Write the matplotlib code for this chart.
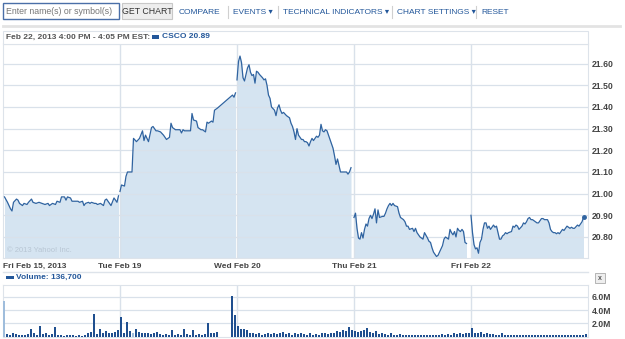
import matplotlib
matplotlib.use('Agg')
import matplotlib.pyplot as plt
from matplotlib.patches import Rectangle

plt.rcParams['font.family'] = ['Liberation Sans', 'DejaVu Sans']

# 5-min bar index (0 = Fri Feb 15 open, 78 bars a day) and CSCO price
fri15_bar = [1, 3, 5, 6, 7, 9, 10, 11, 13, 14, 16, 17, 19, 20, 22, 24, 26, 28, 30, 31,
             33, 35, 36, 38, 39, 41, 42, 43, 45, 46, 48, 50, 51, 53, 54, 55, 57, 58, 59, 61,
             62, 63, 65, 67, 68, 69, 71, 72, 74, 76, 77]
fri15_px = [20.985, 20.96, 20.93, 20.92, 20.96, 20.975, 20.97, 20.955, 20.945, 20.955,
            20.95, 20.96, 20.975, 20.96, 20.955, 20.96, 20.955, 20.95, 20.955, 20.945,
            20.955, 20.95, 20.965, 20.96, 20.985, 20.985, 20.97, 20.985, 20.98, 20.965,
            20.965, 20.965, 20.96, 20.965, 20.945, 20.955, 20.96, 20.955, 20.96, 20.955,
            20.955, 20.95, 20.955, 20.945, 20.97, 20.975, 20.955, 20.945, 20.98, 20.96, 20.99]

tue19_bar = [78, 79, 81, 82, 83, 85, 86, 87, 89, 91, 93, 94, 95, 97, 99, 100, 102, 103, 105, 107,
             108, 109, 111, 112, 113, 115, 117, 118, 119, 120, 121, 123, 125, 126, 127, 129, 130, 132, 133, 135,
             136, 137, 139, 140, 141, 143, 153, 154, 155]
tue19_px = [21.01, 21.04, 21.035, 21.08, 21.10, 21.10, 21.10, 21.255, 21.24, 21.255,
            21.29, 21.245, 21.27, 21.24, 21.305, 21.31, 21.29, 21.29, 21.285, 21.27,
            21.26, 21.25, 21.26, 21.325, 21.305, 21.295, 21.295, 21.295, 21.28, 21.295,
            21.29, 21.29, 21.29, 21.37, 21.34, 21.335, 21.305, 21.295, 21.295, 21.285,
            21.33, 21.325, 21.335, 21.33, 21.385, 21.395, 21.455, 21.445, 21.465]

wed20_bar = [156, 157, 158, 159, 160, 161, 163, 164, 165, 166, 167, 168, 169, 170, 171, 173, 174, 175, 176, 177,
             178, 179, 181, 182, 183, 184, 185, 186, 187, 189, 190, 191, 192, 193, 194, 195, 196, 197, 199, 200,
             201, 202, 203, 204, 205, 206, 207, 209, 210, 211, 212, 213, 214, 215, 216, 217, 219, 220, 221, 222,
             223, 224, 225, 227, 228, 229, 230, 231, 232]
wed20_px = [21.525, 21.61, 21.635, 21.605, 21.535, 21.52, 21.58, 21.595, 21.56, 21.545,
            21.55, 21.51, 21.565, 21.56, 21.55, 21.535, 21.525, 21.53, 21.50, 21.455,
            21.44, 21.40, 21.385, 21.36, 21.395, 21.41, 21.385, 21.37, 21.375, 21.36,
            21.355, 21.35, 21.325, 21.31, 21.285, 21.25, 21.30, 21.27, 21.25, 21.25,
            21.24, 21.24, 21.235, 21.22, 21.24, 21.255, 21.245, 21.265, 21.26, 21.27,
            21.32, 21.29, 21.285, 21.295, 21.29, 21.27, 21.23, 21.21, 21.175, 21.135,
            21.16, 21.13, 21.10, 21.10, 21.10, 21.10, 21.09, 21.10, 21.12]

thu21_bar = [234, 235, 236, 237, 238, 239, 240, 241, 242, 243, 244, 245, 246, 247, 248, 249, 250, 251, 253, 254,
             255, 256, 257, 258, 259, 260, 261, 263, 264, 265, 266, 267, 268, 269, 270, 271, 273, 274, 275, 276,
             277, 278, 279, 280, 281, 283, 284, 285, 286, 287, 288, 289, 290, 291, 293, 294, 295, 296, 297, 298,
             299, 300, 301, 302, 303, 304, 305, 306, 307, 308, 309]
thu21_px = [20.89, 20.91, 20.84, 20.795, 20.79, 20.82, 20.795, 20.835, 20.86, 20.85,
            20.885, 20.90, 20.885, 20.905, 20.93, 20.865, 20.925, 20.89, 20.895, 20.895,
            20.91, 20.93, 20.945, 20.955, 20.945, 20.955, 20.945, 20.94, 20.91, 20.89,
            20.885, 20.88, 20.87, 20.85, 20.85, 20.835, 20.84, 20.825, 20.84, 20.82,
            20.81, 20.80, 20.795, 20.79, 20.82, 20.795, 20.78, 20.775, 20.75, 20.73,
            20.72, 20.71, 20.715, 20.73, 20.76, 20.79, 20.80, 20.795, 20.79, 20.835,
            20.82, 20.81, 20.825, 20.80, 20.84, 20.83, 20.825, 20.835, 20.825, 20.775, 20.77]

fri22_bar = [312, 313, 314, 315, 316, 317, 318, 319, 320, 321, 322, 323, 324, 325, 326, 327, 328, 329, 330, 331,
             332, 333, 334, 335, 336, 337, 339, 340, 341, 342, 343, 344, 346, 347, 348, 349, 350, 351, 352, 353,
             355, 356, 357, 358, 359, 360, 361, 363, 364, 365, 366, 367, 368, 369, 370, 371, 373, 374, 375, 376,
             377, 378, 379, 380, 381, 383, 384, 385, 386, 387]
fri22_px = [20.90, 20.82, 20.765, 20.745, 20.75, 20.725, 20.775, 20.79, 20.835, 20.865,
            20.865, 20.84, 20.85, 20.835, 20.845, 20.855, 20.845, 20.85, 20.82, 20.79,
            20.79, 20.805, 20.81, 20.82, 20.815, 20.82, 20.825, 20.85, 20.845, 20.855,
            20.85, 20.835, 20.85, 20.865, 20.86, 20.87, 20.885, 20.89, 20.88, 20.88,
            20.87, 20.865, 20.865, 20.875, 20.885, 20.885, 20.88, 20.88, 20.865, 20.835,
            20.825, 20.82, 20.82, 20.815, 20.82, 20.815, 20.835, 20.83, 20.84, 20.85,
            20.845, 20.84, 20.845, 20.84, 20.84, 20.855, 20.85, 20.86, 20.87, 20.89]

# volume (millions), one value every 2 bars of each day
vol_fri15 = [5.4, 0.4, 0.3, 0.5, 0.4, 0.3, 0.3, 0.25, 0.4, 1.1, 0.6, 0.3, 1.6, 0.4, 0.5, 0.3, 0.4, 1.45, 0.3, 0.2,
             0.15, 0.2, 0.3, 0.2, 0.15, 0.2, 0.15, 0.3, 0.5, 0.7, 3.4, 0.4, 1.1, 0.5, 0.8, 0.6, 0.5, 0.7, 1.0]
vol_tue19 = [3.0, 0.6, 2.2, 0.8, 0.5, 1.1, 0.7, 0.6, 0.5, 0.6, 0.4, 0.5, 0.7, 0.4, 0.3, 0.4, 0.3, 1.0, 0.3, 0.4,
             0.3, 1.1, 0.4, 0.3, 1.0, 0.3, 0.4, 0.3, 0.4, 2.0, 0.5, 0.6, 0.7, 0, 0, 0, 0, 6.1, 3.3]
vol_wed20 = [1.6, 1.1, 1.2, 1.0, 0.6, 0.5, 0.4, 0.6, 0.3, 0.4, 0.5, 0.4, 0.6, 0.4, 0.5, 0.7, 0.4, 0.5, 0.3, 0.5,
             0.4, 0.6, 0.4, 0.3, 0.5, 0.3, 0.4, 0.3, 0.6, 0.5, 0.4, 0.6, 0.5, 0.8, 0.7, 1.0, 0.8, 1.5, 1.0]
vol_thu21 = [0.9, 0.7, 0.8, 1.0, 1.3, 0.7, 0.5, 0.9, 0.4, 0.5, 0.4, 0.3, 0.5, 0.3, 0.3, 0.4, 0.2, 0.3, 0.2, 0.3,
             0.2, 0.2, 0.3, 0.2, 0.3, 0.2, 0.3, 0.2, 0.3, 0.4, 0.3, 0.4, 0.3, 0.5, 0.4, 0.5, 0.4, 0.6, 0.5]
vol_fri22 = [1.3, 0.6, 0.5, 0.7, 0.4, 0.5, 0.4, 0.4, 0.3, 0.3, 0.6, 0.3, 0.2, 0.3, 0.2, 0.2, 0.3, 0.2, 0.2, 0.2,
             0.3, 0.2, 0.2, 0.2, 0.3, 0.2, 0.2, 0.2, 0.3, 0.2, 0.2, 0.2, 0.2, 0.2, 0.2, 0.2, 0.2, 0.3, 0.4]
light_vol = [(0, 0), (1, 4), (1, 58)]  # (day, slot) drawn in light blue

day_labels = ['Fri Feb 15, 2013', 'Tue Feb 19', 'Wed Feb 20', 'Thu Feb 21', 'Fri Feb 22']
price_ticks = [20.80, 20.90, 21.00, 21.10, 21.20, 21.30, 21.40, 21.50, 21.60]
vol_ticks = [2, 4, 6]
vol_labels = ['2.0M', '4.0M', '6.0M']
nav_items = ['COMPARE', 'EVENTS \u25be', 'TECHNICAL INDICATORS \u25be', 'CHART SETTINGS \u25be', 'RESET']

LINE = '#2f63a0'
FILL = '#d5e4f1'
GRID = '#d9e1ea'
BLUE = '#23579a'
W, H = 625, 339


def fx(x):
    return x / W


def fy(y):
    return 1 - y / H


fig = plt.figure(figsize=(W / 100, H / 100), dpi=100)

# ---- top navigation bar
fig.patches.append(Rectangle((fx(3), fy(19)), fx(116), 16 / H, transform=fig.transFigure,
                             fc='white', ec='#4a6fa8', lw=1))
fig.text(fx(6), fy(11), 'Enter name(s) or symbol(s)', fontsize=6.3, color='#777777', va='center')
fig.patches.append(Rectangle((fx(122), fy(19)), fx(50), 16 / H, transform=fig.transFigure,
                             fc='#eeeeee', ec='#c8c8c8', lw=0.8))
fig.text(fx(147), fy(11), 'GET CHART', fontsize=6.3, color='#333333', va='center', ha='center')
nav_x = [179, 233, 283, 397, 481]
for i, (x, s) in enumerate(zip(nav_x, nav_items)):
    fig.text(fx(x), fy(12), s, fontsize=6, color=BLUE, va='center')
    if i > 0:
        fig.lines.append(plt.Line2D([fx(x - 5)] * 2, [fy(6), fy(18)], transform=fig.transFigure,
                                    color='#d0d0d0', lw=0.8))
fig.lines.append(plt.Line2D([fx(3), fx(620)], [fy(26), fy(26)], transform=fig.transFigure,
                            color='#e3e3e3', lw=2))

# ---- header box
fig.patches.append(Rectangle((fx(3), fy(43.5)), fx(585), 13 / H, transform=fig.transFigure,
                             fc='white', ec='#dde3ea', lw=0.8))
fig.text(fx(6), fy(37), 'Feb 22, 2013 4:00 PM - 4:05 PM EST:', fontsize=6, fontweight='bold',
         color='#555555', va='center')
fig.patches.append(Rectangle((fx(152), fy(38.5)), fx(7), 3 / H, transform=fig.transFigure,
                             fc=BLUE, ec='none'))
fig.text(fx(162), fy(37), 'CSCO 20.89', fontsize=6, fontweight='bold', color=BLUE, va='center')

# ---- price panel
ax = fig.add_axes([fx(3), fy(258), fx(585), (258 - 43.5) / H])
ymin, ymax = 20.703, 21.693
days = [(fri15_bar, fri15_px), (tue19_bar, tue19_px), (wed20_bar, wed20_px),
        (thu21_bar, thu21_px), (fri22_bar, fri22_px)]
for b, p in days:
    ax.fill_between(b, p, ymin, color=FILL, lw=0, zorder=1)
    ax.plot(b, p, color=LINE, lw=0.9, zorder=4)
ax.plot(fri22_bar[-1], fri22_px[-1], 'o', color=LINE, ms=2.5, zorder=5)

day_starts = [0, 78, 156, 234, 312]
for d in day_starts[1:]:
    ax.axvline(d, color=GRID, lw=1, zorder=2)
ax.set_xlim(0, 390)
ax.set_ylim(ymin, ymax)
ax.set_yticks(price_ticks)
ax.set_yticklabels(['%.2f' % v for v in price_ticks], fontweight='bold')
ax.yaxis.tick_right()
ax.tick_params(axis='y', length=0, pad=2.5, labelsize=6.2, labelcolor='#444444')
ax.grid(axis='y', color=GRID, lw=0.9, zorder=2)
ax.set_axisbelow(False)
ax.set_xticks(day_starts)
ax.set_xticklabels(day_labels, fontweight='bold')
ax.tick_params(axis='x', length=0, pad=3.5, labelsize=6, labelcolor='#444444')
ax.get_xticklabels()[0].set_horizontalalignment('left')
for s in ax.spines.values():
    s.set_color('#dde3ea')
    s.set_linewidth(0.8)
ax.text(0.006, 0.03, '\u00a9 2013 Yahoo! Inc.', transform=ax.transAxes, fontsize=5.5,
        color='#b8c6d4', zorder=3)

# ---- separator + volume header
fig.lines.append(plt.Line2D([fx(3), fx(588)], [fy(271.5), fy(271.5)], transform=fig.transFigure,
                            color='#dde3ea', lw=1))
fig.patches.append(Rectangle((fx(6), fy(279)), fx(8), 3 / H, transform=fig.transFigure,
                             fc=BLUE, ec='none'))
fig.text(fx(16), fy(277.5), 'Volume: 136,700', fontsize=6, fontweight='bold', color=BLUE, va='center')
fig.patches.append(Rectangle((fx(595), fy(283)), fx(10), 10 / H, transform=fig.transFigure,
                             fc='#eeeeee', ec='#aaaaaa', lw=0.6))
fig.text(fx(600), fy(278), 'x', fontsize=5, fontweight='bold', color='#555555', va='center', ha='center')

# ---- volume panel
vax = fig.add_axes([fx(3), fy(336.7), fx(585), (336.7 - 285) / H])
vols = [vol_fri15, vol_tue19, vol_wed20, vol_thu21, vol_fri22]
for di, (d0, v) in enumerate(zip(day_starts, vols)):
    xs = [d0 + 2 * k + 0.5 for k in range(len(v))]
    cols = ['#9fbddc' if (di, k) in light_vol else '#1f4f8f' for k in range(len(v))]
    vax.bar(xs, v, width=1.1, color=cols, lw=0, zorder=3)
for d in day_starts[1:]:
    vax.axvline(d, color=GRID, lw=1, zorder=1)
vax.set_xlim(0, 390)
vax.set_ylim(0, 7.8)
vax.set_xticks([])
vax.set_yticks(vol_ticks)
vax.set_yticklabels(vol_labels, fontweight='bold')
vax.yaxis.tick_right()
vax.tick_params(axis='y', length=0, pad=2.5, labelsize=6.2, labelcolor='#444444')
vax.grid(axis='y', color=GRID, lw=0.9, zorder=1)
for s in vax.spines.values():
    s.set_color('#dde3ea')
    s.set_linewidth(0.8)

fig.savefig('out.png', dpi=100)
